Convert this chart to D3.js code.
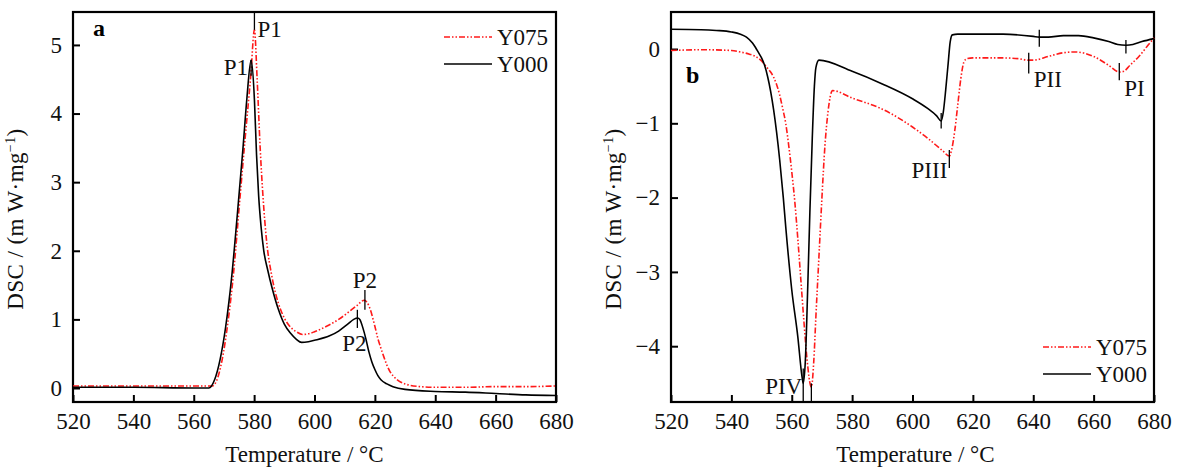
<!DOCTYPE html>
<html>
<head>
<meta charset="utf-8">
<script src="https://cdn.jsdelivr.net/npm/d3@7"></script>
<style>
  body { margin: 0; background: #fff; }
  svg { display: block; font-family: "Liberation Serif", "Times New Roman", serif; }
</style>
</head>
<body>
<div id="chart"></div>
<script>
// Temperature ticks shared by both panels
const tempTicks = [520, 540, 560, 580, 600, 620, 640, 660, 680];
const dscTicksA = [0, 1, 2, 3, 4, 5];
const dscTicksB = [-4, -3, -2, -1, 0];
const seriesNames = ["Y075", "Y000"];

// Panel a (heating) - Y000
const tempA000 = [520, 540, 560, 565, 566.9, 568.7, 570.6, 572.5, 574.4, 576.3, 577.6, 579.0,
  580.1, 580.8, 581.5, 582.3, 583.2, 584.5, 586, 588, 590, 592, 594, 595.7, 598, 600, 605, 608, 611, 613, 614.3,
  615, 616, 617, 618, 619, 620, 621, 622, 624, 626, 630, 640, 650, 660, 670, 680];
const dscA000 = [0.01, 0.01, 0.0, 0.0, 0.12, 0.41, 0.9, 1.59, 2.51, 3.49, 4.22, 4.78,
  4.2, 3.4, 2.8, 2.35, 2.0, 1.72, 1.45, 1.15, 0.93, 0.8, 0.71, 0.665, 0.675, 0.695, 0.76, 0.83, 0.93, 1.0, 1.02,
  1.0, 0.88, 0.72, 0.53, 0.38, 0.27, 0.18, 0.12, 0.06, 0.02, -0.02, -0.05, -0.06, -0.08, -0.1, -0.11];

// Panel a (heating) - Y075
const tempA075 = [520, 540, 560, 566.2, 567.5, 569.4, 571.3, 573.2, 575.1, 577, 578.9, 580.1,
  581, 582, 583, 584, 586, 588, 590, 592, 594, 596, 598, 600, 604, 608, 612, 614, 616.5,
  618, 620, 621, 622, 623, 624, 625, 626, 628, 630, 635, 640, 650, 660, 670, 680];
const dscA075 = [0.03, 0.03, 0.03, 0.03, 0.1, 0.41, 0.95, 1.68, 2.66, 3.63, 4.56, 5.22,
  4.5, 3.5, 2.75, 2.2, 1.6, 1.24, 1.02, 0.89, 0.82, 0.78, 0.79, 0.82, 0.9, 1.0, 1.13, 1.2, 1.28,
  1.2, 0.9, 0.72, 0.58, 0.45, 0.33, 0.24, 0.18, 0.1, 0.06, 0.02, 0.01, 0.01, 0.02, 0.02, 0.03];

// Panel b (cooling) - Y000
const tempB000 = [520, 530, 535, 540, 543, 545, 547, 548, 549, 550, 551, 552, 554, 556, 557.2, 558,
  560, 562, 563.4, 563.8, 564.5, 565.3, 566, 566.8, 567.5, 568, 569, 580, 590, 600, 605, 608, 609.5,
  610.2, 611, 611.8, 612.5, 613.2, 615, 620, 630, 640, 642, 645, 650, 655, 660, 665, 668, 670.7,
  673, 676, 680];
const dscB000 = [0.265, 0.26, 0.25, 0.23, 0.2, 0.16, 0.08, 0.02, -0.05, -0.12, -0.22, -0.37, -0.82,
  -1.49, -2.0, -2.39, -3.24, -3.87, -4.41, -4.5, -4.2, -3.2, -2.2, -1.2, -0.5, -0.25, -0.15, -0.3,
  -0.47, -0.67, -0.8, -0.9, -0.97, -0.85, -0.55, -0.2, 0.1, 0.19, 0.2, 0.2, 0.2, 0.17, 0.16, 0.16,
  0.18, 0.18, 0.15, 0.1, 0.06, 0.05, 0.06, 0.1, 0.14];

// Panel b (cooling) - Y075
const tempB075 = [520, 530, 540, 543, 546, 548, 550, 552, 553, 554, 555, 556, 557, 558, 559, 560, 561,
  562, 563, 564, 565, 566.5, 567.3, 568, 569, 570, 571, 572, 573.5, 580, 590, 600, 605, 610, 612.2,
  613, 614, 615, 616, 617, 618, 620, 630, 635, 638.5, 640, 645, 650, 654, 660, 665, 668.5, 670,
  672, 675, 678, 680];
const dscB075 = [-0.02, -0.01, -0.02, -0.04, -0.07, -0.1, -0.16, -0.26, -0.31, -0.38, -0.48, -0.62,
  -0.8, -1.0, -1.3, -1.65, -2.05, -2.55, -3.1, -3.65, -4.15, -4.55, -4.2, -3.6, -2.8, -2.0, -1.3,
  -0.85, -0.56, -0.66, -0.81, -1.05, -1.2, -1.37, -1.44, -1.35, -1.1, -0.75, -0.4, -0.18, -0.13,
  -0.12, -0.12, -0.13, -0.15, -0.15, -0.1, -0.05, -0.04, -0.1, -0.22, -0.31, -0.3, -0.22, -0.1,
  0.05, 0.15];

const width = 1178;
const height = 467;
const fontSize = 23;
const colors = { Y075: "#ff1a1a", Y000: "#000" };
const dashes = { Y075: "6,2,1.5,2,1.5,2", Y000: null };

const svg = d3.select("#chart").append("svg")
  .attr("width", width)
  .attr("height", height);

function toPoints(temps, vals) {
  return temps.map((t, i) => [t, vals[i]]);
}

function drawPanel(cfg) {
  const x = d3.scaleLinear().domain([520, 680]).range([cfg.left, cfg.right]);
  const y = d3.scaleLinear().domain(cfg.yDomain).range([402, 12]);
  const g = svg.append("g");

  // axes with inward ticks
  g.append("g")
    .attr("transform", `translate(0,402)`)
    .call(d3.axisBottom(x).tickValues(tempTicks).tickFormat(d3.format("d"))
      .tickSizeInner(-7).tickSizeOuter(0).tickPadding(11))
    .call(a => a.select(".domain").remove())
    .call(a => a.selectAll("line").attr("stroke-width", 2))
    .call(a => a.selectAll("text").attr("font-size", fontSize).attr("font-family", "Liberation Serif").attr("fill", "#111"));

  g.append("g")
    .attr("transform", `translate(${cfg.left},0)`)
    .call(d3.axisLeft(y).tickValues(cfg.yTicks).tickFormat(d3.format("d"))
      .tickSizeInner(-7).tickSizeOuter(0).tickPadding(11))
    .call(a => a.select(".domain").remove())
    .call(a => a.selectAll("line").attr("stroke-width", 2))
    .call(a => a.selectAll("text").attr("font-size", fontSize).attr("font-family", "Liberation Serif").attr("fill", "#111"));

  // frame
  g.append("rect")
    .attr("x", cfg.left).attr("y", 12)
    .attr("width", cfg.right - cfg.left).attr("height", 390)
    .attr("fill", "none").attr("stroke", "#000").attr("stroke-width", 2.2);

  const line = d3.line()
    .x(d => x(d[0]))
    .y(d => y(d[1]))
    .curve(d3.curveMonotoneX);

  cfg.series.forEach(s => {
    g.append("path")
      .datum(toPoints(s.temps, s.vals))
      .attr("d", line)
      .attr("fill", "none")
      .attr("stroke", colors[s.name])
      .attr("stroke-width", 1.6)
      .attr("stroke-dasharray", dashes[s.name]);
  });

  // peak markers
  cfg.markers.forEach(m => {
    g.append("line")
      .attr("x1", x(m.t)).attr("x2", x(m.t))
      .attr("y1", y(m.lo)).attr("y2", y(m.hi))
      .attr("stroke", "#000").attr("stroke-width", 1.3);
    if (m.label) {
      g.append("text")
        .attr("x", x(m.t) + m.dx)
        .attr("y", (m.below ? y(m.lo) : y(m.hi)) + m.dy)
        .attr("text-anchor", m.anchor)
        .attr("font-size", fontSize)
        .attr("fill", "#111")
        .text(m.label);
    }
  });

  // panel letter
  g.append("text")
    .attr("x", cfg.letterX).attr("y", cfg.letterY)
    .attr("font-size", 24).attr("font-weight", "bold")
    .text(cfg.letter);

  // legend
  seriesNames.forEach((n, i) => {
    const ly = cfg.legendY + i * 27;
    g.append("line")
      .attr("x1", cfg.legendX).attr("x2", cfg.legendX + 48)
      .attr("y1", ly).attr("y2", ly)
      .attr("stroke", colors[n]).attr("stroke-width", 1.6)
      .attr("stroke-dasharray", dashes[n]);
    g.append("text")
      .attr("x", cfg.legendX + 53).attr("y", ly + 8)
      .attr("font-size", fontSize).attr("fill", "#111")
      .text(n);
  });

  // axis titles
  g.append("text")
    .attr("x", (cfg.left + cfg.right) / 2 + cfg.titleShift).attr("y", 462)
    .attr("text-anchor", "middle").attr("font-size", fontSize).attr("fill", "#111")
    .text("Temperature / °C");

  const yt = g.append("text")
    .attr("transform", `translate(${cfg.left - 50},219) rotate(-90)`)
    .attr("text-anchor", "middle").attr("font-size", fontSize).attr("fill", "#111")
    .attr("letter-spacing", 0.4);
  yt.append("tspan").text("DSC / (m W·mg");
  yt.append("tspan").attr("font-size", 14).attr("dy", -8).text("−1");
  yt.append("tspan").attr("dy", 8).text(")");
}

drawPanel({
  left: 73, right: 556, yDomain: [-0.204, 5.48], yTicks: dscTicksA, titleShift: -10,
  letter: "a", letterX: 93, letterY: 36, legendX: 444, legendY: 37,
  series: [
    { name: "Y075", temps: tempA075, vals: dscA075 },
    { name: "Y000", temps: tempA000, vals: dscA000 }
  ],
  markers: [
    { t: 580.1, lo: 5.22, hi: 5.48, label: "P1", dx: 3, dy: 25, anchor: "start" },
    { t: 579.0, lo: 4.55, hi: 4.78, label: "P1", dx: -3, dy: 15, anchor: "end" },
    { t: 616.7, lo: 1.14, hi: 1.43, label: "P2", dx: 0, dy: -2, anchor: "middle" },
    { t: 614.2, lo: 0.875, hi: 1.14, label: "P2", dx: -3, dy: 23, anchor: "middle", below: true }
  ]
});

drawPanel({
  left: 671, right: 1154, yDomain: [-4.751, 0.498], yTicks: dscTicksB, titleShift: 3,
  letter: "b", letterX: 686, letterY: 83, legendX: 1043, legendY: 347,
  series: [
    { name: "Y075", temps: tempB075, vals: dscB075 },
    { name: "Y000", temps: tempB000, vals: dscB000 }
  ],
  markers: [
    { t: 642, lo: 0.03, hi: 0.26 },
    { t: 670.7, lo: -0.06, hi: 0.12 },
    { t: 638.5, lo: -0.33, hi: -0.05, label: "PII", dx: 5, dy: 13, anchor: "start", below: true },
    { t: 668.5, lo: -0.42, hi: -0.19, label: "PI", dx: 5, dy: 16, anchor: "start", below: true },
    { t: 609.5, lo: -1.07, hi: -0.86 },
    { t: 612.2, lo: -1.6, hi: -1.36, label: "PIII", dx: -2, dy: 10, anchor: "end", below: true },
    { t: 563.8, lo: -4.75, hi: -4.3, label: "PIV", dx: -1, dy: -8, anchor: "end", below: true },
    { t: 566.5, lo: -4.75, hi: -4.5 }
  ]
});
</script>
</body>
</html>
